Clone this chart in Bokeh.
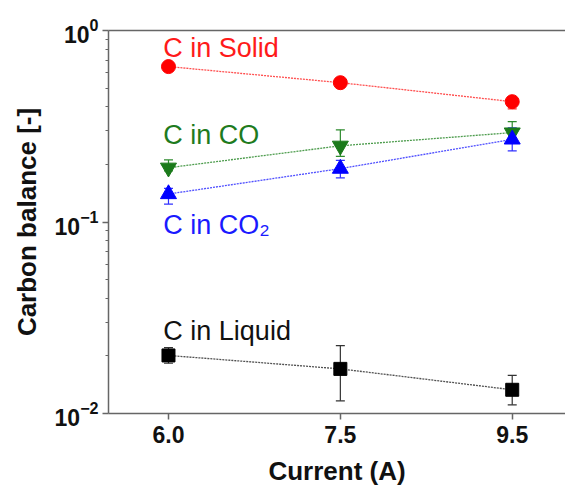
from bokeh.plotting import figure
from bokeh.models import (ColumnDataSource, Whisker, TeeHead, LinearAxis,
                          FixedTicker, Range1d)
from bokeh.core.properties import value
from bokeh.embed import file_html
from bokeh.resources import INLINE

# ---- data -------------------------------------------------------------
currents = ["6.0", "7.5", "9.5"]
x_idx = [0, 1, 2]

solid = [0.648, 0.534, 0.425]
solid_lo = [0.635, 0.52, 0.39]
solid_hi = [0.662, 0.55, 0.45]

co = [0.192, 0.25, 0.293]
co_lo = [0.185, 0.22, 0.26]
co_hi = [0.211, 0.303, 0.334]

co2 = [0.140, 0.19, 0.27]
co2_lo = [0.124, 0.17, 0.235]
co2_hi = [0.150, 0.21, 0.31]

liquid = [0.0201, 0.0171, 0.0133]
liquid_lo = [0.0183, 0.01165, 0.0111]
liquid_hi = [0.0221, 0.0226, 0.0158]

label_texts = ["C in Solid", "C in CO", "C in CO\u2082", "C in Liquid"]
label_x = [-0.03, -0.03, -0.03, -0.03]
label_y = [0.812, 0.285, 0.097, 0.0271]
label_colors = ["#ff1a1a", "#1e7b1e", "#1a1aff", "#111111"]

y_major = [0.01, 0.1, 1.0]
y_minor = [0.02, 0.03, 0.04, 0.05, 0.06, 0.07, 0.08, 0.09,
           0.2, 0.3, 0.4, 0.5, 0.6, 0.7, 0.8, 0.9]

FONT = "Liberation Sans"
AXIS_COLOR = "#666666"

p = figure(width=565, height=490, y_axis_type="log",
           x_range=Range1d(-0.349, 2.31), y_range=Range1d(0.01, 1.0),
           output_backend="svg", toolbar_location=None,
           min_border_left=108, min_border_right=0,
           min_border_top=30, min_border_bottom=77)
p.grid.visible = False
p.outline_line_color = None
p.background_fill_color = "white"
p.border_fill_color = "white"

xax = p.below[0]
yax = p.left[0]

# x axis
xax.ticker = FixedTicker(ticks=x_idx)
xax.major_label_overrides = {i: c for i, c in zip(x_idx, currents)}
xax.axis_label = "Current (A)"

# y axis
yax.ticker = FixedTicker(ticks=y_major, minor_ticks=y_minor)
yax.axis_label = "Carbon balance [-]"

for ax in (xax, yax):
    ax.axis_line_color = AXIS_COLOR
    ax.axis_line_width = 1.5
    ax.major_tick_line_color = AXIS_COLOR
    ax.major_tick_line_width = 1.5
    ax.minor_tick_line_color = AXIS_COLOR
    ax.major_tick_in = 0
    ax.major_tick_out = 6
    ax.minor_tick_in = 0
    ax.minor_tick_out = 3
    ax.major_label_text_font = FONT
    ax.major_label_text_font_style = "bold"
    ax.major_label_text_font_size = "23px"
    ax.major_label_text_color = "#111111"
    ax.axis_label_text_font = FONT
    ax.axis_label_text_font_style = "bold"
    ax.axis_label_text_font_size = "26px"
    ax.axis_label_text_color = "#111111"

xax.minor_tick_line_color = None
xax.major_label_standoff = 6
xax.axis_label_standoff = 10
yax.major_label_standoff = 4
yax.axis_label_standoff = 10

# top border line (no right border visible in reference)
top = LinearAxis(ticker=FixedTicker(ticks=[]), major_label_text_font_size="0px",
                 axis_line_color=AXIS_COLOR, axis_line_width=1.5,
                 major_tick_line_color=None, minor_tick_line_color=None,
                 major_label_standoff=0, major_tick_out=0)
p.add_layout(top, "above")

series = [
    (solid, solid_lo, solid_hi, "circle", 14, "#ff0000", "#ff3030"),
    (co, co_lo, co_hi, "inverted_triangle", 16, "#1b7a1b", "#2e8b2e"),
    (co2, co2_lo, co2_hi, "triangle", 16, "#0000ff", "#3030ff"),
    (liquid, liquid_lo, liquid_hi, "square", 13, "#000000", "#333333"),
]

for vals, lo, hi, marker, size, color, lcolor in series:
    src = ColumnDataSource(dict(x=x_idx, y=vals, lo=lo, hi=hi))
    w = Whisker(source=src, base="x", lower="lo", upper="hi",
                line_color=lcolor, line_width=1.2, level="underlay",
                upper_head=TeeHead(size=9, line_color=lcolor, line_width=1.2),
                lower_head=TeeHead(size=9, line_color=lcolor, line_width=1.2))
    p.add_layout(w)
    p.line("x", "y", source=src, line_color=lcolor, line_dash="2 1",
           line_width=1.3, line_alpha=0.85)
    p.scatter("x", "y", source=src, marker=marker, size=size,
              fill_color=color, line_color=color)

lab_src = ColumnDataSource(dict(x=label_x, y=label_y, text=label_texts,
                                color=label_colors))
p.text("x", "y", text="text", source=lab_src, text_color="color",
       text_font=value(FONT), text_font_size="27px",
       text_baseline="alphabetic", text_align="left")

open("out.html", "w").write(file_html(p, INLINE))
